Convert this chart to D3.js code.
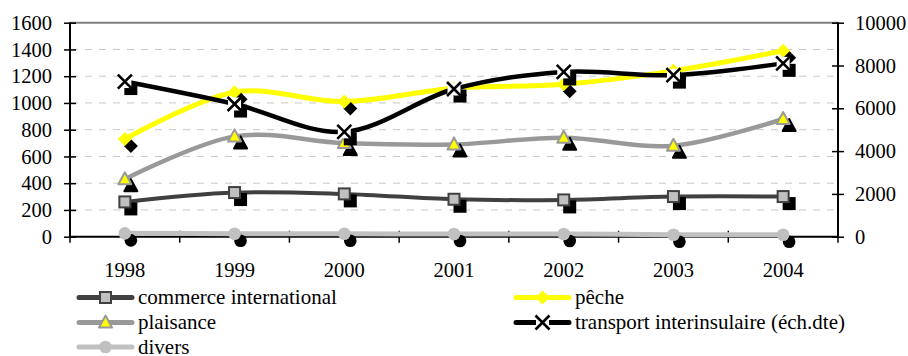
<!DOCTYPE html>
<html>
<head>
<meta charset="utf-8">
<script src="https://cdn.jsdelivr.net/npm/d3@7/dist/d3.min.js"></script>
<style>
  html, body { margin: 0; padding: 0; background: #fff; }
  svg { display: block; }
</style>
</head>
<body>
<svg id="chart" width="908" height="356"></svg>
<script>
// Years on the category axis
const years = ["1998", "1999", "2000", "2001", "2002", "2003", "2004"];

// Series values (left axis unless noted)
const commerceInternational = [260, 330, 320, 280, 275, 300, 300];
const peche = [730, 1080, 1010, 1110, 1140, 1240, 1390];
const plaisance = [430, 750, 700, 690, 740, 680, 880];
const transportInterinsulaire = [7250, 6200, 4900, 6900, 7700, 7550, 8100]; // right axis
const divers = [25, 22, 22, 20, 20, 15, 15];

// Axis ticks
const leftTicks = [0, 200, 400, 600, 800, 1000, 1200, 1400, 1600];
const rightTicks = [0, 2000, 4000, 6000, 8000, 10000];

const W = 908, H = 356;
const plot = { left: 70, right: 838, top: 22.7, bottom: 236.7 };
const TICK_FONT = 20.5;
const LEGEND_FONT = 21;
const FAMILY = "Liberation Serif";

const svg = d3.select("#chart");

const x = d3.scaleBand().domain(years).range([plot.left, plot.right]);
const cx = d => x(d) + x.bandwidth() / 2;
const yL = d3.scaleLinear().domain([0, 1600]).range([plot.bottom, plot.top]);
const yR = d3.scaleLinear().domain([0, 10000]).range([plot.bottom, plot.top]);

// Dashed gridlines
svg.append("g").selectAll("line")
  .data(leftTicks.filter(t => t > 0 && t < 1600))
  .join("line")
  .attr("x1", plot.left).attr("x2", plot.right)
  .attr("y1", d => yL(d)).attr("y2", d => yL(d))
  .attr("stroke", "#c8c8c8").attr("stroke-width", 1)
  .attr("stroke-dasharray", "7,7").attr("stroke-dashoffset", -15);

// Plot-area top border
svg.append("line")
  .attr("x1", plot.left).attr("x2", plot.right)
  .attr("y1", plot.top).attr("y2", plot.top)
  .attr("stroke", "#808080").attr("stroke-width", 2);

// Axes
const tickLen = 6;
function styleAxis(g) {
  g.attr("font-family", FAMILY).attr("font-size", TICK_FONT);
  g.select(".domain").remove();
  g.selectAll(".tick line").attr("stroke", "#000").attr("stroke-width", 1.5);
  g.selectAll(".tick text").style("font-family", FAMILY)
    .style("font-size", TICK_FONT + "px").attr("fill", "#000");
}

const leftAxis = svg.append("g").attr("transform", `translate(${plot.left},0)`)
  .call(d3.axisLeft(yL).tickValues(leftTicks).tickFormat(d3.format("d")).tickSize(tickLen).tickPadding(12));
styleAxis(leftAxis);
leftAxis.selectAll(".tick line").attr("x1", tickLen).attr("x2", -tickLen);

const rightAxis = svg.append("g").attr("transform", `translate(${plot.right},0)`)
  .call(d3.axisRight(yR).tickValues(rightTicks).tickFormat(d3.format("d")).tickSize(tickLen).tickPadding(11));
styleAxis(rightAxis);
rightAxis.selectAll(".tick line").attr("x1", -tickLen).attr("x2", tickLen);

// Category axis: ticks sit between the categories
const boundaries = d3.range(years.length + 1).map(i => plot.left + i * x.step());
const bottomG = svg.append("g");
bottomG.selectAll("line.tk").data(boundaries).join("line").attr("class", "tk")
  .attr("x1", d => d).attr("x2", d => d)
  .attr("y1", plot.bottom - tickLen).attr("y2", plot.bottom + tickLen)
  .attr("stroke", "#000").attr("stroke-width", 1.5);
bottomG.selectAll("text").data(years).join("text")
  .attr("x", d => cx(d)).attr("y", plot.bottom + 40)
  .attr("text-anchor", "middle")
  .style("font-family", FAMILY).style("font-size", TICK_FONT + "px")
  .text(d => d);

// Axis lines
svg.append("line").attr("x1", plot.left).attr("x2", plot.left)
  .attr("y1", plot.top - 0.5).attr("y2", plot.bottom + 0.5).attr("stroke", "#000").attr("stroke-width", 2);
svg.append("line").attr("x1", plot.right).attr("x2", plot.right)
  .attr("y1", plot.top - 0.5).attr("y2", plot.bottom + 0.5).attr("stroke", "#000").attr("stroke-width", 2);
svg.append("line").attr("x1", plot.left).attr("x2", plot.right)
  .attr("y1", plot.bottom).attr("y2", plot.bottom).attr("stroke", "#000").attr("stroke-width", 2);

// Marker drawers: draw(g, isShadow)
function square(g, shadow) {
  g.append("rect").attr("x", -5.5).attr("y", -5.5).attr("width", 11).attr("height", 11)
    .attr("fill", shadow ? "#000" : "#c0c0c0")
    .attr("stroke", shadow ? "#000" : "#404040").attr("stroke-width", 2);
}
function diamond(g, shadow) {
  g.append("path").attr("d", "M0,-7L7,0L0,7L-7,0Z")
    .attr("fill", shadow ? "#000" : "#ffff00");
}
function triangle(g, shadow) {
  g.append("path").attr("d", "M0,-7L6.5,5L-6.5,5Z")
    .attr("fill", shadow ? "#000" : "#ffff00")
    .attr("stroke", shadow ? "#000" : "#999999").attr("stroke-width", 2)
    .attr("stroke-linejoin", "round");
}
function cross(g, shadow) {
  if (shadow) {
    g.append("rect").attr("x", -6.5).attr("y", -6.5).attr("width", 13).attr("height", 13).attr("fill", "#000");
  } else {
    g.append("rect").attr("x", -6.5).attr("y", -6.5).attr("width", 13).attr("height", 13).attr("fill", "#fff");
    g.append("path").attr("d", "M-7,-7L7,7M7,-7L-7,7")
      .attr("stroke", "#000").attr("stroke-width", 2.6).attr("fill", "none");
  }
}
function circle(g, shadow) {
  g.append("circle").attr("r", 6.3).attr("fill", shadow ? "#000" : "#c0c0c0");
}

const series = [
  { name: "commerce international", values: commerceInternational, y: yL, color: "#404040", width: 4, marker: square },
  { name: "pêche", values: peche, y: yL, color: "#ffff00", width: 5, marker: diamond },
  { name: "plaisance", values: plaisance, y: yL, color: "#999999", width: 4.5, marker: triangle },
  { name: "transport interinsulaire (éch.dte)", values: transportInterinsulaire, y: yR, color: "#000000", width: 4.5, marker: cross },
  { name: "divers", values: divers, y: yL, color: "#c0c0c0", width: 5, marker: circle }
];

const shadowDx = 6, shadowDy = 7;

series.forEach(s => {
  const pts = years.map((yr, i) => [cx(yr), s.y(s.values[i])]);
  const line = d3.line().curve(d3.curveCardinal.tension(0));
  const g = svg.append("g");
  g.append("path").attr("d", line(pts)).attr("fill", "none")
    .attr("stroke", s.color).attr("stroke-width", s.width)
    .attr("stroke-linejoin", "round").attr("stroke-linecap", "round");
  pts.forEach(p => {
    const sg = g.append("g").attr("transform", `translate(${p[0] + shadowDx},${p[1] + shadowDy})`);
    s.marker(sg, true);
  });
  pts.forEach(p => {
    const mg = g.append("g").attr("transform", `translate(${p[0]},${p[1]})`);
    s.marker(mg, false);
  });
});

// Legend
const legendRows = [
  { s: series[0], x: 77, y: 297.5 },
  { s: series[1], x: 514, y: 297.5 },
  { s: series[2], x: 77, y: 322.5 },
  { s: series[3], x: 514, y: 322.5 },
  { s: series[4], x: 77, y: 347 }
];
legendRows.forEach(r => {
  const g = svg.append("g").attr("transform", `translate(${r.x},${r.y})`);
  g.append("line").attr("x1", 2).attr("x2", 55).attr("y1", 0).attr("y2", 0)
    .attr("stroke", r.s.color).attr("stroke-width", 5).attr("stroke-linecap", "round");
  const mg = g.append("g").attr("transform", "translate(28.5,0)");
  r.s.marker(mg, false);
  g.append("text").attr("x", 61).attr("y", 6.5)
    .style("font-family", FAMILY).style("font-size", LEGEND_FONT + "px")
    .text(r.s.name);
});
</script>
</body>
</html>
